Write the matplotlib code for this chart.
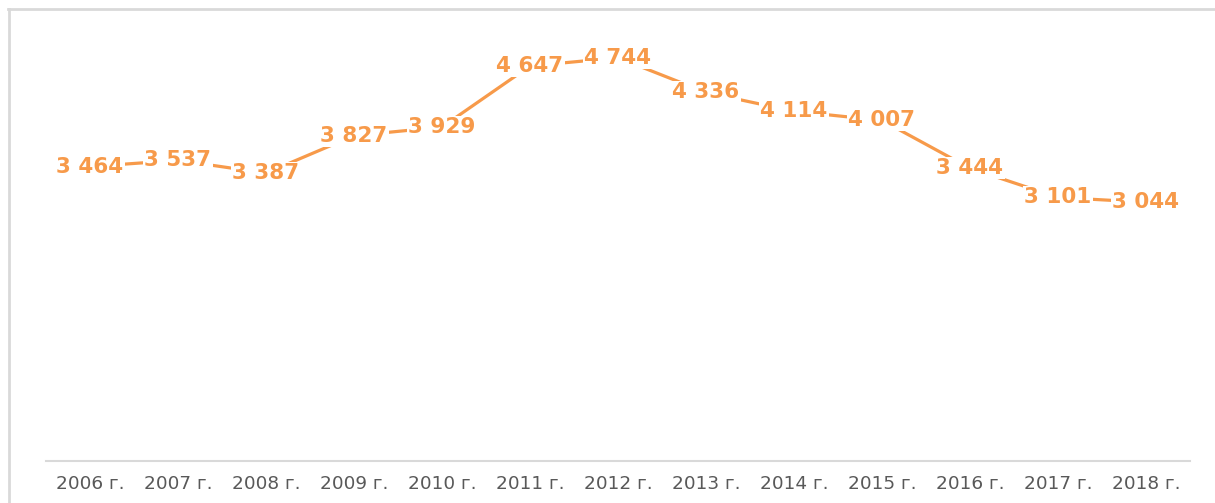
import matplotlib
matplotlib.use("Agg")
import matplotlib.pyplot as plt
from matplotlib.lines import Line2D

# данные
years = ["2006 г.", "2007 г.", "2008 г.", "2009 г.", "2010 г.", "2011 г.", "2012 г.",
         "2013 г.", "2014 г.", "2015 г.", "2016 г.", "2017 г.", "2018 г."]
values = [3464, 3537, 3387, 3827, 3929, 4647, 4744, 4336, 4114, 4007, 3444, 3101, 3044]

orange = "#F79A4A"
grey_line = "#D9D9D9"
grey_text = "#595959"

fig = plt.figure(figsize=(12.15, 5.03), dpi=100)
ax = fig.add_axes([46 / 1215, 1 - 461 / 503, (1190 - 46) / 1215, (461 - 36) / 503])

x = list(range(len(years)))
ax.plot(x, values, color=orange, lw=2.3, solid_capstyle="butt", zorder=2)

for xi, v in zip(x, values):
    lbl = f"{v:,}".replace(",", " ")
    ax.text(xi, v, lbl, ha="center", va="center", fontsize=15.5, fontweight="bold",
            color=orange, family="DejaVu Sans", zorder=3,
            bbox=dict(boxstyle="square,pad=0.05", fc="white", ec="none"))

ax.set_xlim(-0.5, len(years) - 0.5)
ax.set_ylim(0, 5000)
ax.set_xticks(x)
ax.set_xticklabels(years, fontsize=13.3, color=grey_text, family="DejaVu Sans")
ax.tick_params(axis="x", length=0, pad=10)
ax.set_yticks([])
for s in ["top", "left", "right"]:
    ax.spines[s].set_visible(False)
ax.spines["bottom"].set_color(grey_line)
ax.spines["bottom"].set_linewidth(1.5)

# рамка диаграммы (обрезана справа и снизу)
fig.add_artist(Line2D([8 / 1215, 1], [1 - 8.5 / 503, 1 - 8.5 / 503], color=grey_line, lw=2,
                      transform=fig.transFigure))
fig.add_artist(Line2D([8.5 / 1215, 8.5 / 1215], [0, 1 - 8.5 / 503], color=grey_line, lw=2,
                      transform=fig.transFigure))

fig.savefig("out.png", dpi=100, facecolor="white")
